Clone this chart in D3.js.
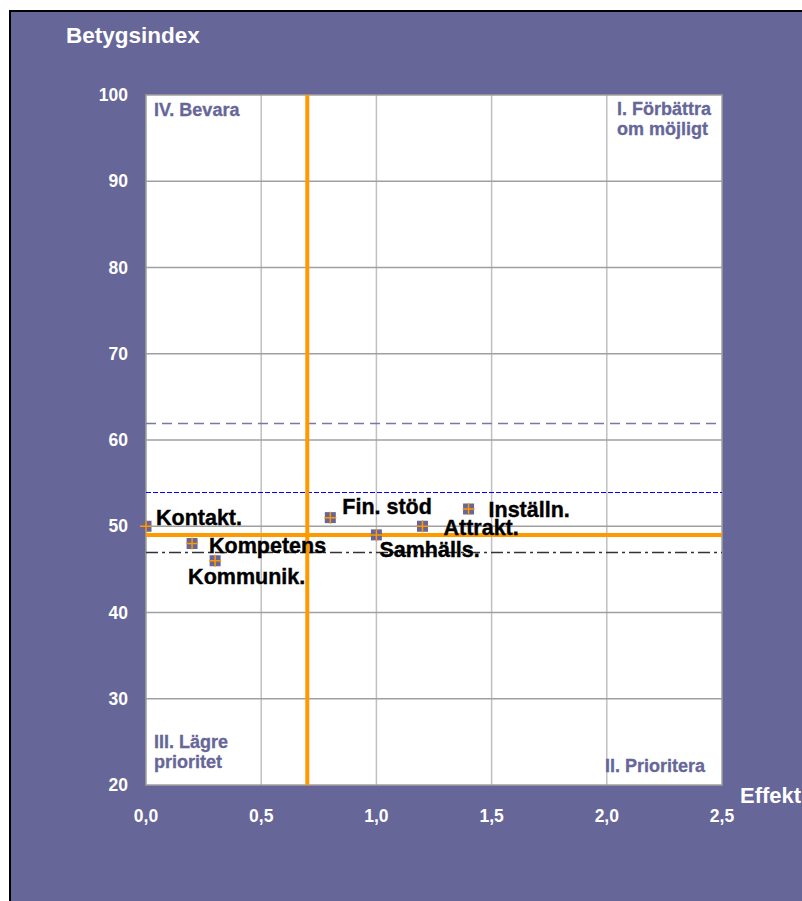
<!DOCTYPE html>
<html><head><meta charset="utf-8">
<script src="https://cdn.jsdelivr.net/npm/d3@7"></script>
<style>body{margin:0;background:#fff}svg{display:block;font-family:Arial,"Liberation Sans",sans-serif}</style>
</head><body><svg id="c" width="802" height="901"></svg>
<script>
const names = ["Kontakt.","Kompetens","Kommunik.","Fin. stöd","Samhälls.","Attrakt.","Inställn."];
const effekt = [0.0, 0.2, 0.3, 0.8, 1.0, 1.2, 1.4];
const betyg = [50, 48, 46, 51, 49, 50, 52];
const xTicks = [0, 0.5, 1.0, 1.5, 2.0, 2.5];
const yTicks = [20, 30, 40, 50, 60, 70, 80, 90, 100];
const meanEffekt = 0.7;
const meanBetyg = 49;
const refDashed = 62;
const refDotted = 54;
const refDashDot = 47;
const quadrants = [
  {lines:["IV. Bevara"], corner:"tl"},
  {lines:["I. Förbättra","om möjligt"], corner:"tr"},
  {lines:["III. Lägre","prioritet"], corner:"bl"},
  {lines:["II. Prioritera"], corner:"br"}
];
// label offsets [dx, dy]
const labelPos = {
  "Kontakt.":[10,-1],
  "Kompetens":[17,9],
  "Kommunik.":[-27,23],
  "Fin. stöd":[12,-4],
  "Samhälls.":[3,22],
  "Attrakt.":[21,9],
  "Inställn.":[20,8]
};

const svg = d3.select("#c");
const purple = "#666699";
svg.append("rect").attr("x",10).attr("y",11).attr("width",800).attr("height",900)
  .attr("fill",purple).attr("stroke","#000").attr("stroke-width",2);

const L=146, R=722, T=95, B=785;
const x = d3.scaleLinear().domain([0,2.5]).range([L,R]);
const y = d3.scaleLinear().domain([20,100]).range([B,T]);

svg.append("rect").attr("x",L).attr("y",T).attr("width",R-L).attr("height",B-T).attr("fill","#fff");

// grid
const g = svg.append("g");
g.selectAll(".vg").data(xTicks.slice(1,-1)).join("line")
  .attr("x1",d=>x(d)).attr("x2",d=>x(d)).attr("y1",T).attr("y2",B)
  .attr("stroke","#c0c0c0").attr("stroke-width",1.5);
g.selectAll(".hg").data(yTicks.slice(1,-1)).join("line")
  .attr("x1",L).attr("x2",R).attr("y1",d=>y(d)).attr("y2",d=>y(d))
  .attr("stroke","#a0a0a0").attr("stroke-width",1.5);
svg.append("rect").attr("x",L).attr("y",T).attr("width",R-L).attr("height",B-T)
  .attr("fill","none").attr("stroke","#a0a0a0").attr("stroke-width",1.5);

// reference lines
function hline(v, color, dash, w){
  const yy = Math.round(y(v)) + 0.5;
  svg.append("line").attr("x1",L).attr("x2",R).attr("y1",yy).attr("y2",yy)
    .attr("stroke",color).attr("stroke-width",w).attr("stroke-dasharray",dash);
}
hline(refDashed, "#7777aa", "10,6", 1.3);
hline(refDotted, "#0000ff", "5,2", 1.2);
hline(refDashDot, "#333333", "12,4,3,4", 1.3);

// quadrant labels
const ql = svg.append("g").attr("fill",purple).attr("font-weight","bold").attr("font-size",18)
  .attr("stroke",purple).attr("stroke-width",0.3);
quadrants.forEach(q=>{
  q.lines.forEach((t,i)=>{
    let tx, ty;
    if(q.corner==="tl"){tx=L+8; ty=T+21+i*20;}
    if(q.corner==="tr"){tx=617; ty=T+20+i*20;}
    if(q.corner==="bl"){tx=L+8; ty=B-37+i*20;}
    if(q.corner==="br"){tx=605; ty=B-13;}
    ql.append("text").attr("x",tx).attr("y",ty).text(t);
  });
});

// mean lines
svg.append("line").attr("x1",x(meanEffekt)).attr("x2",x(meanEffekt)).attr("y1",T).attr("y2",B)
  .attr("stroke","#ff9900").attr("stroke-width",4);
svg.append("line").attr("x1",L).attr("x2",R).attr("y1",y(meanBetyg)).attr("y2",y(meanBetyg))
  .attr("stroke","#ff9900").attr("stroke-width",4);

// points
const data = names.map((n,i)=>({n, x:effekt[i], y:betyg[i]}));
const pts = svg.append("g").selectAll("g").data(data).join("g")
  .attr("transform",d=>`translate(${x(d.x)},${y(d.y)})`);
pts.append("rect").attr("x",-5.5).attr("y",-5.5).attr("width",11).attr("height",11).attr("fill",purple);
pts.append("path").attr("d","M-6,0H6M0,-6V6").attr("stroke","#ff9900").attr("stroke-width",1.5);

svg.append("g").selectAll("text").data(data).join("text")
  .attr("x",d=>x(d.x)+labelPos[d.n][0]).attr("y",d=>y(d.y)+labelPos[d.n][1])
  .attr("font-weight","bold").attr("font-size",21.5).attr("fill","#000")
  .attr("stroke","#000").attr("stroke-width",0.4).text(d=>d.n);

// axes tick labels
const fmt = d=>d3.format(".1f")(d).replace(".",",");
svg.append("g").selectAll("text").data(xTicks).join("text")
  .attr("x",d=>x(d)).attr("y",822).attr("text-anchor","middle")
  .attr("fill","#fff").attr("font-weight","bold").attr("font-size",17.5).text(fmt);
svg.append("g").selectAll("text").data(yTicks).join("text")
  .attr("x",128).attr("y",d=>y(d)+6).attr("text-anchor","end")
  .attr("fill","#fff").attr("font-weight","bold").attr("font-size",17.5).text(d=>d);

svg.append("text").attr("x",66).attr("y",43).attr("fill","#fff").attr("font-weight","bold")
  .attr("font-size",22.5).text("Betygsindex");
svg.append("text").attr("x",740).attr("y",803).attr("fill","#fff").attr("font-weight","bold")
  .attr("font-size",22).text("Effekt");
</script></body></html>
